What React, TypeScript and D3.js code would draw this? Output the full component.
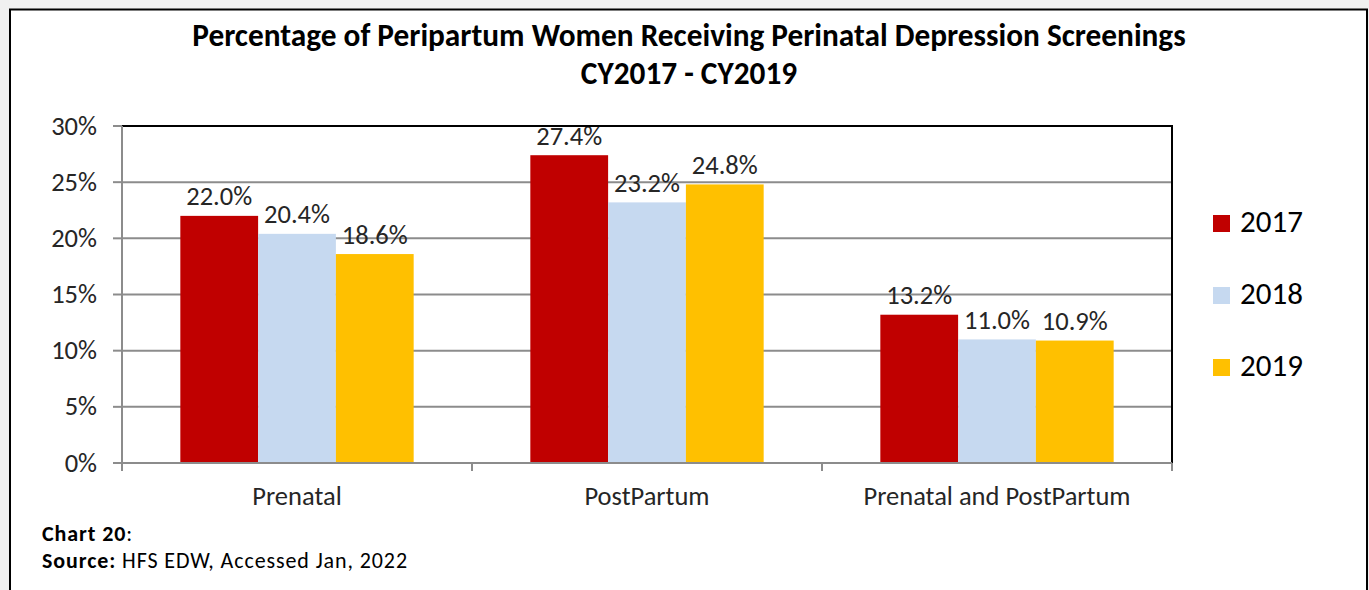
import React, { useEffect, useRef } from "react";
import * as d3 from "d3";

const categories = ["Prenatal", "PostPartum", "Prenatal and PostPartum"];
const years = ["2017", "2018", "2019"];
const values2017 = [22.0, 27.4, 13.2];
const values2018 = [20.4, 23.2, 11.0];
const values2019 = [18.6, 24.8, 10.9];
const colors = ["#C00000", "#C6D9F0", "#FFC000"];
const yTicks = [0, 5, 10, 15, 20, 25, 30];
const titleLines = [
  "Percentage of Peripartum Women Receiving Perinatal Depression Screenings",
  "CY2017 - CY2019",
];

const W = 1369;
const H = 590;
const FONT = "Carlito, Lato, 'Open Sans', sans-serif";

export default function App() {
  const ref = useRef<SVGSVGElement>(null);

  useEffect(() => {
    const svg = d3.select(ref.current);
    svg.selectAll("*").remove();

    svg.append("rect").attr("width", W).attr("height", H).attr("fill", "#f0f0f0");
    svg
      .append("rect")
      .attr("x", 10)
      .attr("y", 9.5)
      .attr("width", 1357)
      .attr("height", 600)
      .attr("fill", "#ffffff")
      .attr("stroke", "#000")
      .attr("stroke-width", 2);

    // title
    svg
      .append("g")
      .selectAll("text")
      .data(titleLines)
      .join("text")
      .attr("x", 689)
      .attr("y", (_, i) => 46 + i * 38)
      .attr("text-anchor", "middle")
      .attr("font-family", FONT)
      .attr("font-weight", "bold")
      .attr("font-size", 31.3)
      .attr("fill", "#000")
      .text((d) => d);

    const left = 122;
    const right = 1172;
    const top = 126;
    const bottom = 463;

    const x0 = d3.scaleBand().domain(categories).range([left, right]).paddingInner(0).paddingOuter(0);
    const bw = x0.bandwidth() / 4.5;
    const x1 = d3.scaleBand().domain(years).range([bw * 0.75, bw * 0.75 + bw * 3]);
    const y = d3.scaleLinear().domain([0, 30]).range([bottom, top]);

    // gridlines
    svg
      .append("g")
      .selectAll("line")
      .data(yTicks.filter((t) => t > 0 && t < 30))
      .join("line")
      .attr("x1", left)
      .attr("x2", right)
      .attr("y1", (d) => y(d))
      .attr("y2", (d) => y(d))
      .attr("stroke", "#8c8c8c")
      .attr("stroke-width", 2);

    // bars
    const series = [values2017, values2018, values2019];
    const data = categories.flatMap((c, ci) =>
      years.map((yr, si) => ({ c, yr, si, v: series[si][ci] }))
    );
    svg
      .append("g")
      .selectAll("rect")
      .data(data)
      .join("rect")
      .attr("x", (d) => (x0(d.c) as number) + (x1(d.yr) as number))
      .attr("y", (d) => y(d.v))
      .attr("width", x1.bandwidth())
      .attr("height", (d) => bottom - y(d.v))
      .attr("fill", (d) => colors[d.si]);

    // value labels
    svg
      .append("g")
      .selectAll("text")
      .data(data)
      .join("text")
      .attr("x", (d) => (x0(d.c) as number) + (x1(d.yr) as number) + x1.bandwidth() / 2)
      .attr("y", (d) => y(d.v) - 10.5)
      .attr("text-anchor", "middle")
      .attr("font-family", FONT)
      .attr("font-size", 26.5)
      .attr("fill", "#262626")
      .text((d) => d.v.toFixed(1) + "%");

    // plot border top and right
    svg
      .append("path")
      .attr("d", `M${left},${top}H${right}V${bottom}`)
      .attr("fill", "none")
      .attr("stroke", "#000")
      .attr("stroke-width", 2);

    // y axis
    const yAxis = svg.append("g");
    yAxis
      .append("line")
      .attr("x1", left)
      .attr("x2", left)
      .attr("y1", top)
      .attr("y2", bottom)
      .attr("stroke", "#8c8c8c")
      .attr("stroke-width", 2);
    yAxis
      .selectAll("line.tick")
      .data(yTicks)
      .join("line")
      .attr("class", "tick")
      .attr("x1", left - 9)
      .attr("x2", left)
      .attr("y1", (d) => y(d))
      .attr("y2", (d) => y(d))
      .attr("stroke", "#8c8c8c")
      .attr("stroke-width", 2);
    yAxis
      .selectAll("text")
      .data(yTicks)
      .join("text")
      .attr("x", 97)
      .attr("y", (d) => y(d) + 8.5)
      .attr("text-anchor", "end")
      .attr("font-family", FONT)
      .attr("font-size", 26.5)
      .attr("fill", "#262626")
      .text((d) => d + "%");

    // x axis
    const xAxis = svg.append("g");
    xAxis
      .append("line")
      .attr("x1", left - 9)
      .attr("x2", right)
      .attr("y1", bottom)
      .attr("y2", bottom)
      .attr("stroke", "#8c8c8c")
      .attr("stroke-width", 2);
    const bounds = [...categories.map((c) => x0(c) as number), right];
    xAxis
      .selectAll("line.tick")
      .data(bounds)
      .join("line")
      .attr("class", "tick")
      .attr("x1", (d) => d)
      .attr("x2", (d) => d)
      .attr("y1", bottom)
      .attr("y2", bottom + 8)
      .attr("stroke", "#8c8c8c")
      .attr("stroke-width", 2);
    xAxis
      .selectAll("text")
      .data(categories)
      .join("text")
      .attr("x", (d) => (x0(d) as number) + x0.bandwidth() / 2)
      .attr("y", 505)
      .attr("text-anchor", "middle")
      .attr("font-family", FONT)
      .attr("font-size", 26.5)
      .attr("fill", "#262626")
      .text((d) => d);

    // legend
    const lg = svg
      .append("g")
      .selectAll("g")
      .data(years)
      .join("g")
      .attr("transform", (_, i) => `translate(1213, ${215 + i * 72})`);
    lg.append("rect")
      .attr("width", 17)
      .attr("height", 17)
      .attr("fill", (_, i) => colors[i]);
    lg.append("text")
      .attr("x", 27)
      .attr("y", 17)
      .attr("font-family", FONT)
      .attr("font-size", 31)
      .attr("fill", "#000")
      .text((d) => d);

    // footer
    const f1 = svg
      .append("text")
      .attr("x", 42)
      .attr("y", 540.5)
      .attr("font-family", FONT)
      .attr("font-size", 22)
      .attr("letter-spacing", 0.9)
      .attr("fill", "#000");
    f1.append("tspan").attr("font-weight", "bold").text("Chart 20");
    f1.append("tspan").text(":");
    const f2 = svg
      .append("text")
      .attr("x", 42)
      .attr("y", 567.5)
      .attr("font-family", FONT)
      .attr("font-size", 22)
      .attr("letter-spacing", 0.9)
      .attr("fill", "#000");
    f2.append("tspan").attr("font-weight", "bold").text("Source:");
    f2.append("tspan").text(" HFS EDW, Accessed Jan, 2022");
  }, []);

  return (
    <svg
      ref={ref}
      width={W}
      height={H}
      style={{ position: "absolute", left: 0, top: 0, display: "block" }}
    />
  );
}
